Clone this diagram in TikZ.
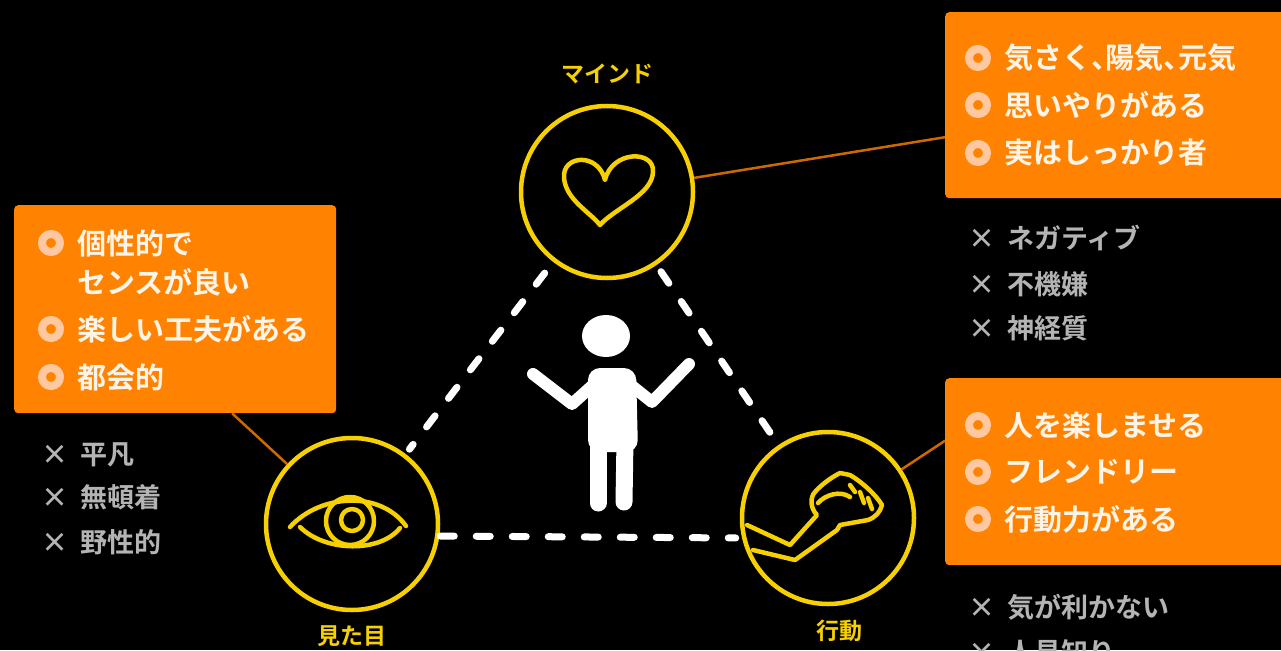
\documentclass[tikz,border=0pt]{standalone}
\usepackage{fontspec}
\newfontfamily\jp{Noto Sans CJK JP}[BoldFont={Noto Sans CJK JP Bold}]
\usetikzlibrary{positioning}

\definecolor{chalkyellow}{RGB}{246,208,0}
\definecolor{boxorange}{RGB}{255,130,0}
\definecolor{leadorange}{RGB}{205,105,0}
\definecolor{cream}{RGB}{255,244,232}
\definecolor{ringcol}{RGB}{255,200,160}
\definecolor{nogray}{RGB}{180,180,180}

\begin{document}
\begin{tikzpicture}[x=1pt, y=-1pt,
        badge/.style = {draw=chalkyellow, circle, line width=4.5pt, minimum size=172pt, inner sep=0pt},
        title/.style = {text=chalkyellow, font=\jp\bfseries\fontsize{23}{23}\selectfont},
        hint/.style = {fill=boxorange, rounded corners=4pt, inner sep=0pt, anchor=north west},
        pro/.style = {anchor=west, inner sep=0pt, text=cream, font=\jp\bfseries\fontsize{29}{29}\selectfont},
        con/.style = {anchor=west, inner sep=0pt, text=nogray, font=\jp\bfseries\fontsize{27}{27}\selectfont},
        ring/.style = {circle, draw=ringcol, line width=8pt, minimum size=18pt, inner sep=0pt},
        lead/.style = {draw=leadorange, line width=2.5pt},
        trail/.style = {draw=white, line width=7pt, line cap=round, dash pattern=on 14pt off 22pt},
        stroke/.style = {draw=chalkyellow, line width=4.5pt, line cap=round, line join=round},
        ]
        \fill[black] (0,0) rectangle (1281,650);
        \useasboundingbox (0,0) rectangle (1281,650);

        \node [badge] (mind) at (607,192) {};
        \node [badge] (look) at (352,524) {};
        \node [badge] (act) at (828,518) {};
        \node [title, above=16pt of mind] (mindname) {マインド};
        \node [title, below=10pt of look] (lookname) {見た目};
        \node [title, below=10pt of act, xshift=11pt] (actname) {行動};

        \node [hint, minimum width=345pt, minimum height=186pt] (mindbox) at (945,12) {};
        \node [hint, minimum width=322pt, minimum height=208pt] (lookbox) at (14,205) {};
        \node [hint, minimum width=345pt, minimum height=187pt] (actbox) at (945,378) {};

        \draw [lead] (mind) -- ([yshift=-32pt]mindbox.west);
        \draw [lead] ([xshift=57pt]lookbox.south) -- (look);
        \draw [lead] (act) -- ([yshift=31pt]actbox.west);

        \draw [trail, shorten <=14pt, shorten >=6pt] (mind) -- (look);
        \draw [trail, shorten <=8pt, shorten >=8pt] (mind) -- (act);
        \draw [trail, shorten >=4pt] ([yshift=-12pt]look.east) -- ([yshift=-20pt]act.west);

        \foreach \y [count=\i] in {58,105,153} \node [ring] (mr\i) at (978,\y) {};
        \node [pro] (m1) at (1004,58) {\addfontfeatures{RawFeature=+halt}気さく、陽気、元気};
        \node [pro] (m2) at (1004,105) {思いやりがある};
        \node [pro] (m3) at (1004,153) {実はしっかり者};

        \foreach \y [count=\i] in {243,329,377} \node [ring] (lr\i) at (51,\y) {};
        \node [pro] (l1) at (77,243) {個性的で};
        \node [pro] (l2) at (77,282) {センスが良い};
        \node [pro] (l3) at (77,329) {楽しい工夫がある};
        \node [pro] (l4) at (77,377) {都会的};

        \foreach \y [count=\i] in {425,472,519} \node [ring] (ar\i) at (978,\y) {};
        \node [pro] (a1) at (1004,425) {人を楽しませる};
        \node [pro] (a2) at (1004,472) {フレンドリー};
        \node [pro] (a3) at (1004,519) {行動力がある};

        \node [con] (mn1) at (968,238) {×\hspace{12pt}ネガティブ};
        \node [con] (mn2) at (968,284) {×\hspace{12pt}不機嫌};
        \node [con] (mn3) at (968,328) {×\hspace{12pt}神経質};
        \node [con] (ln1) at (41,455) {×\hspace{12pt}平凡};
        \node [con] (ln2) at (41,497) {×\hspace{12pt}無頓着};
        \node [con] (ln3) at (41,542) {×\hspace{12pt}野性的};
        \node [con] (an1) at (968,607) {×\hspace{12pt}気が利かない};
        \node [con] (an2) at (968,652) {×\hspace{12pt}人見知り};

        % heart
        \draw [stroke] (605,180) .. controls (598,152) and (562,155) .. (564,178)
            .. controls (566,200) and (590,212) .. (600,225)
            .. controls (615,208) and (652,195) .. (653,172)
            .. controls (655,150) and (612,150) .. cycle;
        % eye
        \draw [stroke] (290,527) .. controls (320,494) and (380,490) .. (406,526);
        \draw [stroke] (300,527) .. controls (325,552) and (380,553) .. (400,528);
        \draw [stroke] (350,521) circle (24pt);
        \draw [stroke] (352,520) circle (11pt);
        % arm and fist
        \draw [stroke] (747,525) -- (790,545) -- (817,515)
            .. controls (810,508) and (810,497) .. (815,492)
            .. controls (820,486) and (830,478) .. (840,473)
            -- (850,475) .. controls (862,482) and (876,495) .. (882,505)
            .. controls (880,512) and (876,517) .. (868,520)
            -- (840,525) -- (837,530) -- (795,560) -- (753,550);
        \draw [stroke] (818,503) .. controls (825,495) and (840,490) .. (850,497);
        \draw [stroke] (850,485) -- (855,492);
        \draw [stroke] (860,492) -- (864,503);
        \draw [stroke] (868,498) -- (872,509);

        % figure
        \fill [white] (606,336) ellipse (24pt and 21pt);
        \draw [white, line width=12pt, line cap=round, line join=round] (533,374) -- (572,404) -- (592,386);
        \draw [white, line width=12pt, line cap=round, line join=round] (689,364) -- (652,402) -- (632,386);
        \fill [white, rounded corners=12pt] (588,368) -- (636,368) -- (638,452) -- (588,452) -- cycle;
        \draw [white, line width=17pt, line cap=round] (598,440) -- (598,503);
        \draw [white, line width=17pt, line cap=round] (625,440) -- (624,502);
    \end{tikzpicture}
\end{document}
